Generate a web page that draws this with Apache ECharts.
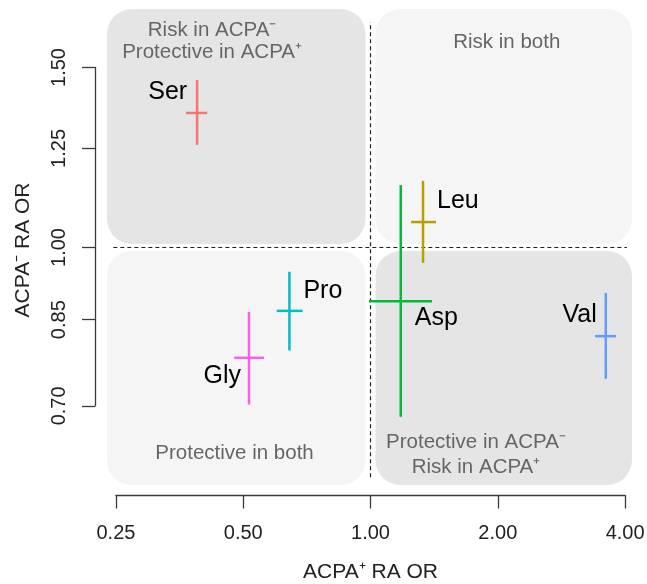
<!DOCTYPE html>
<html><head><meta charset="utf-8">
<script src="https://cdn.jsdelivr.net/npm/echarts@6/dist/echarts.min.js"></script>
<style>html,body{margin:0;padding:0;background:#fff}#c{width:647px;height:584px}</style>
</head><body><div id="c"></div>
<script>
// ---- data (odds ratios) ----
const aminoAcids = ['Ser','Leu','Asp','Val','Pro','Gly'];
const orPos   = [0.389, 1.331, 1.179, 3.600, 0.643, 0.516];   // ACPA+ RA OR
const orPosLo = [0.366, 1.247, 0.992, 3.395, 0.600, 0.476];
const orPosHi = [0.411, 1.428, 1.398, 3.807, 0.691, 0.560];
const orNeg   = [1.354, 1.059, 0.886, 0.819, 0.867, 0.780];   // ACPA- RA OR
const orNegLo = [1.260, 0.966, 0.683, 0.744, 0.793, 0.702];
const orNegHi = [1.458, 1.162, 1.151, 0.903, 0.947, 0.865];
const seriesColors = ['#F8766D','#B79F00','#00BA38','#619CFF','#00BFC4','#F564E3'];
const xTicks = [0.25, 0.50, 1.00, 2.00, 4.00];
const yTicks = [0.70, 0.85, 1.00, 1.25, 1.50];
const refX = 1, refY = 1;
const refVSpan = [0.596, 1.662];   // vertical dashed line extent (y, OR)
const refHSpan = [0.2465, 4.04];   // horizontal dashed line extent (x, OR)
const quadrantTexts = ['Risk in ACPA\u207B\nProtective in ACPA\u207A', 'Risk in both', 'Protective in both', 'Protective in ACPA\u207B\nRisk in ACPA\u207A'];
const quadrantAnchors = [[0.422, 1.590], [2.10, 1.588], [0.477, 0.6295], [1.776, 0.6267]];
const xTitle = 'ACPA\u207A RA OR';
const yTitle = 'ACPA\u207B RA OR';

// ---- styling / layout ----
const FONT = '"Liberation Sans", Arial, Helvetica, sans-serif';
const quadrantLineHeights = [22, 22, 22, 25];
const labelPlacement = {
  Ser: {align:'right', dx:-10, dy:-21},
  Leu: {align:'left',  dx: 14, dy:-21},
  Asp: {align:'left',  dx: 14, dy: 17},
  Val: {align:'right', dx: -9, dy:-21},
  Pro: {align:'left',  dx: 14, dy:-20},
  Gly: {align:'right', dx: -8, dy: 18}
};
const LN2 = Math.log(2);
const lx = v => Math.log(v) / LN2;
const ly = v => Math.log(v);

const plot = {left:107, top:9, width:525, height:476};
const xRange = [-2.070, 2.054];
const yRange = [-0.5349, 0.5372];
const px = l => plot.left + (l - xRange[0]) / (xRange[1] - xRange[0]) * plot.width;
const py = l => plot.top + (yRange[1] - l) / (yRange[1] - yRange[0]) * plot.height;
const axLeft = px(lx(xTicks[0])), axRight = px(lx(xTicks[xTicks.length-1]));
const axTop = py(ly(yTicks[yTicks.length-1])), axBottom = py(ly(yTicks[0]));
const X_AXIS_Y = 495.5, Y_AXIS_X = 95;

const barData = aminoAcids.map((n, i) => [lx(orPos[i]), lx(orPosLo[i]), lx(orPosHi[i]), ly(orNeg[i]), ly(orNegLo[i]), ly(orNegHi[i])]);

const chart = echarts.init(document.getElementById('c'), null, {renderer:'canvas'});
const axisColor = '#3a3a3a';
chart.setOption({
  animation: false,
  backgroundColor: '#ffffff',
  grid: [
    {left: plot.left, top: plot.top, width: plot.width, height: plot.height, containLabel:false, outerBoundsMode:'none'},
    {left: axLeft, top: axTop, width: axRight - axLeft, height: axBottom - axTop, containLabel:false, outerBoundsMode:'none'}
  ],
  xAxis: [
    {gridIndex:0, type:'value', min:xRange[0], max:xRange[1], show:false},
    {gridIndex:1, type:'value', min:lx(xTicks[0]), max:lx(xTicks[xTicks.length-1]), position:'bottom',
     offset: X_AXIS_Y - axBottom,
     axisLine:{show:true, onZero:false, lineStyle:{color:axisColor, width:1.3}},
     axisTick:{show:true, inside:false, length:13, customValues: xTicks.map(lx), lineStyle:{color:axisColor, width:1.3}},
     axisLabel:{show:true, customValues: xTicks.map(lx), formatter: v => Math.pow(2, v).toFixed(2), fontSize:20, fontFamily:FONT, color:'#222', margin:28},
     splitLine:{show:false}}
  ],
  yAxis: [
    {gridIndex:0, type:'value', min:yRange[0], max:yRange[1], show:false},
    {gridIndex:1, type:'value', min:ly(yTicks[0]), max:ly(yTicks[yTicks.length-1]), position:'left',
     offset: axLeft - Y_AXIS_X,
     axisLine:{show:true, onZero:false, lineStyle:{color:axisColor, width:1.3}},
     axisTick:{show:true, inside:false, length:13, customValues: yTicks.map(ly), lineStyle:{color:axisColor, width:1.3}},
     axisLabel:{show:true, rotate:90, customValues: yTicks.map(ly), formatter: v => Math.exp(v).toFixed(2), fontSize:20, fontFamily:FONT, color:'#222', margin:26},
     splitLine:{show:false}}
  ],
  graphic: [
    {type:'text', x: px(lx(1)), y: 572, z: 10,
     style:{text:xTitle, font:'21px ' + FONT, fill:'#222', align:'center', verticalAlign:'middle', textAlign:'center', textVerticalAlign:'middle'}},
    {type:'text', x: 23, y: 250, rotation: Math.PI/2, z: 10,
     style:{text:yTitle, font:'21px ' + FONT, fill:'#222', align:'center', verticalAlign:'middle', textAlign:'center', textVerticalAlign:'middle'}}
  ],
  series: [
    { // quadrant boxes
      type:'custom', xAxisIndex:0, yAxisIndex:0, silent:true, z:1, clip:false,
      data:[[lx(refX), ly(refY)]],
      renderItem: (params, api) => {
        const cs = params.coordSys;
        const c = api.coord([api.value(0), api.value(1)]);
        const gx = 5, gy = 3.5, r = 25;
        const L = cs.x, T = cs.y, R = cs.x + cs.width, B = cs.y + cs.height;
        const dark = '#E5E5E5', light = '#F5F5F5';
        const rect = (x0, y0, x1, y1, fill) => ({type:'rect', shape:{x:x0, y:y0, width:x1-x0, height:y1-y0, r:r}, style:{fill:fill}});
        return {type:'group', children:[
          rect(L, T, c[0]-gx, c[1]-gy, dark),
          rect(c[0]+gx, T, R, c[1]-gy, light),
          rect(L, c[1]+gy, c[0]-gx, B, light),
          rect(c[0]+gx, c[1]+gy, R, B, dark)
        ]};
      }
    },
    { // quadrant captions
      type:'custom', xAxisIndex:0, yAxisIndex:0, silent:true, z:2, clip:false,
      data: quadrantAnchors.map((a, i) => [lx(a[0]), ly(a[1]), i]),
      renderItem: (params, api) => {
        const p = api.coord([api.value(0), api.value(1)]);
        const k = api.value(2);
        return {type:'text', x:p[0], y:p[1],
          style:{text: quadrantTexts[k], font:'20.5px ' + FONT, fill:'#666', lineHeight:quadrantLineHeights[k],
                 align:'center', verticalAlign:'middle', textAlign:'center', textVerticalAlign:'middle'}};
      }
    },
    { // vertical reference line
      type:'line', xAxisIndex:0, yAxisIndex:0, silent:true, z:3, showSymbol:false, symbol:'none',
      data:[[lx(refX), ly(refVSpan[0])], [lx(refX), ly(refVSpan[1])]],
      lineStyle:{color:'#222', width:1.2, type:[4,3]}
    },
    { // horizontal reference line
      type:'line', xAxisIndex:0, yAxisIndex:0, silent:true, z:3, showSymbol:false, symbol:'none',
      data:[[lx(refHSpan[0]), ly(refY)], [lx(refHSpan[1]), ly(refY)]],
      lineStyle:{color:'#222', width:1.2, type:[4,3]}
    },
    { // error crosses + labels
      type:'custom', xAxisIndex:0, yAxisIndex:0, silent:true, z:4, clip:false,
      dimensions:['x','xlo','xhi','y','ylo','yhi'],
      encode:{x:[0,1,2], y:[3,4,5]},
      data: barData,
      renderItem: (params, api) => {
        const i = params.dataIndex;
        const x = api.value(0), xlo = api.value(1), xhi = api.value(2);
        const y = api.value(3), ylo = api.value(4), yhi = api.value(5);
        const c = api.coord([x, y]);
        const h0 = api.coord([xlo, y]), h1 = api.coord([xhi, y]);
        const v0 = api.coord([x, ylo]), v1 = api.coord([x, yhi]);
        const col = seriesColors[i];
        const lp = labelPlacement[aminoAcids[i]];
        return {type:'group', children:[
          {type:'line', shape:{x1:h0[0], y1:h0[1], x2:h1[0], y2:h1[1]}, style:{stroke:col, lineWidth:2.5}},
          {type:'line', shape:{x1:v0[0], y1:v0[1], x2:v1[0], y2:v1[1]}, style:{stroke:col, lineWidth:2.5}},
          {type:'text', x:c[0] + lp.dx, y:c[1] + lp.dy,
           style:{text:aminoAcids[i], font:'25px ' + FONT, fill:'#000',
                  align:lp.align, verticalAlign:'middle', textAlign:lp.align, textVerticalAlign:'middle'}}
        ]};
      }
    }
  ]
});
</script>
</body></html>
